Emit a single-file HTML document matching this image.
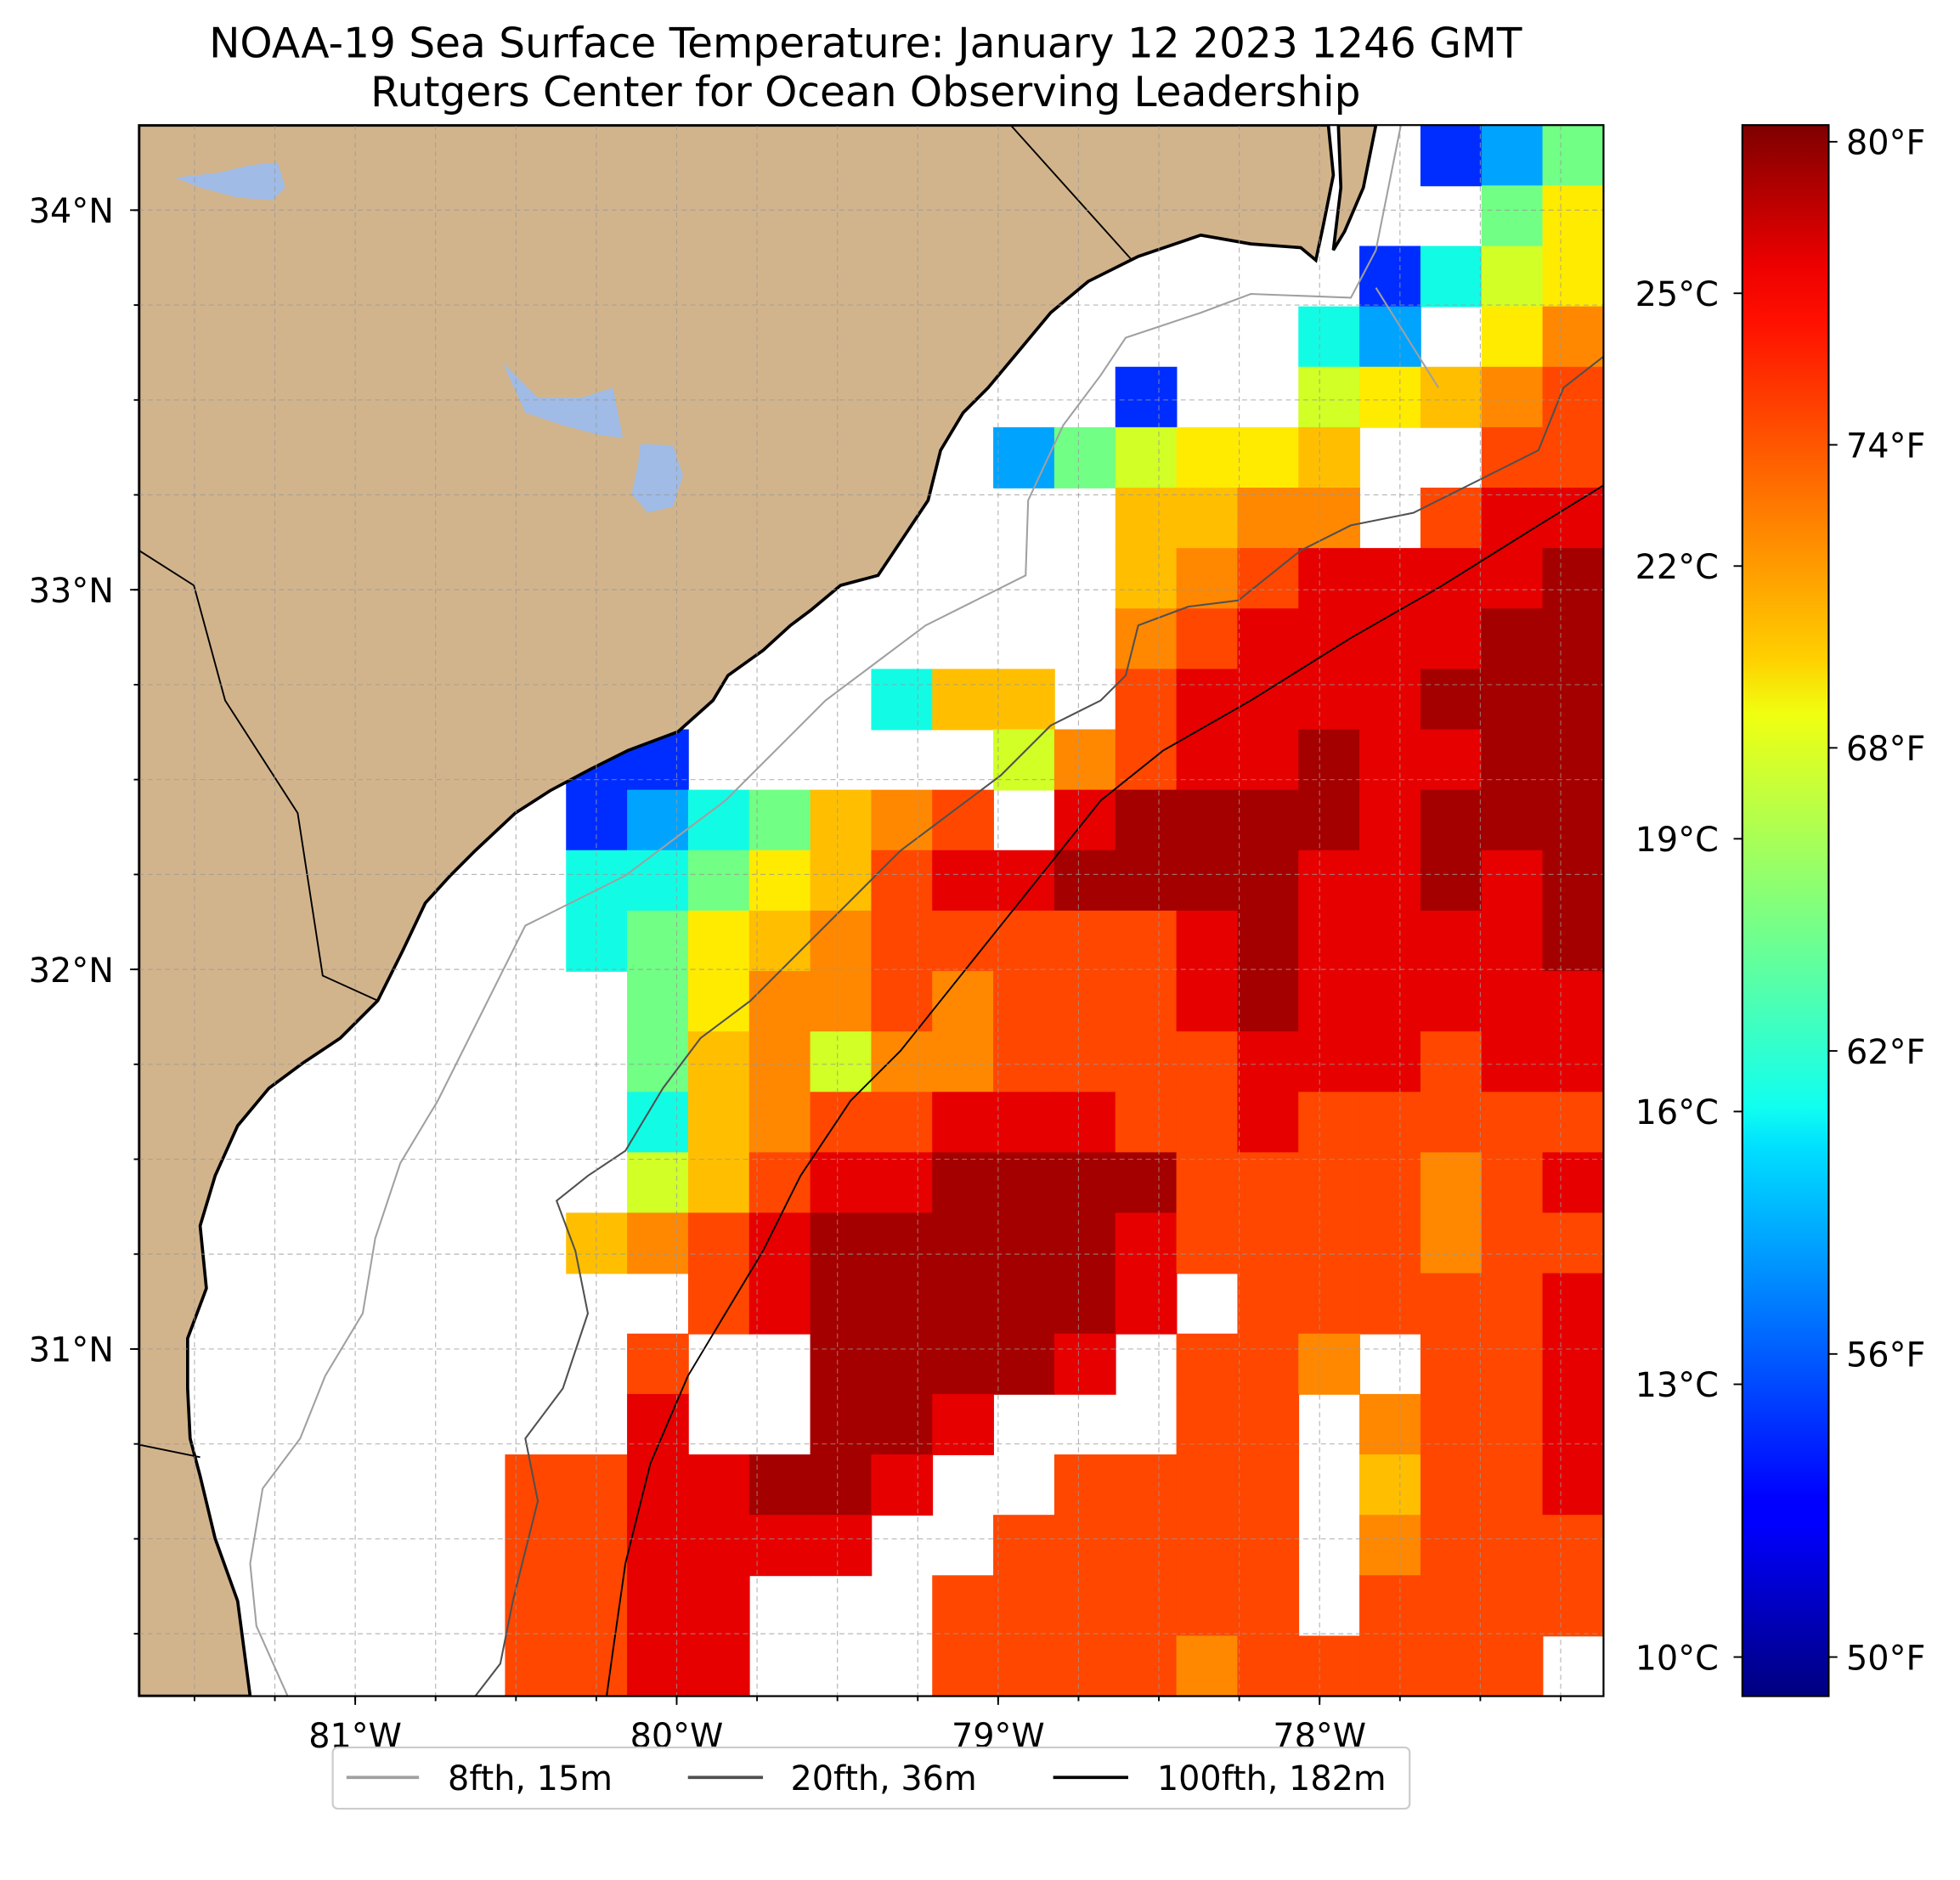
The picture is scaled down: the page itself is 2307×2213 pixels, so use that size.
<!DOCTYPE html>
<html><head><meta charset="utf-8"><style>
html,body{margin:0;padding:0;background:#fff;}
svg{display:block;font-family:"DejaVu Sans","Liberation Sans",sans-serif;}
</style></head><body>
<svg id="fig" width="2307" height="2213" viewBox="0 0 1567 1503" preserveAspectRatio="none" xmlns="http://www.w3.org/2000/svg">
<defs>
<clipPath id="plotclip"><rect x="111" y="100" width="1171" height="1256"/></clipPath>
<linearGradient id="jet" x1="0" y1="1" x2="0" y2="0">
<stop offset="0" stop-color="#00007f"/><stop offset="0.11" stop-color="#0000ff"/><stop offset="0.125" stop-color="#0000ff"/>
<stop offset="0.35" stop-color="#00e0ff"/><stop offset="0.375" stop-color="#10fff0"/><stop offset="0.5" stop-color="#7fff7f"/>
<stop offset="0.625" stop-color="#f0ff10"/><stop offset="0.66" stop-color="#ffd000"/><stop offset="0.875" stop-color="#ff1000"/><stop offset="0.91" stop-color="#ee0000"/><stop offset="1" stop-color="#7f0000"/>
</linearGradient>
</defs>
<text x="692" y="46" text-anchor="middle" font-size="33">NOAA-19 Sea Surface Temperature: January 12 2023 1246 GMT</text>
<text x="692" y="85" text-anchor="middle" font-size="33">Rutgers Center for Ocean Observing Leadership</text>
<g id="plot" clip-path="url(#plotclip)">
<rect x="111" y="100" width="1171" height="1256" fill="#ffffff"/>
<g id="cells"></g>
<path fill="#d2b48c" stroke="#000" stroke-width="2.5" d="M111,100 L1062,100 L1066,140 L1058,180 L1052,208 L1040,198 L1000,195 L960,188 L910,205 L870,225 L840,250 L815,280 L790,310 L770,330 L752,360 L742,400 L722,430 L702,460 L672,468 L648,488 L632,500 L610,520 L582,540 L570,560 L542,585 L502,600 L472,615 L440,632 L412,650 L380,680 L360,700 L340,722 L322,760 L302,800 L272,830 L242,850 L215,870 L190,900 L172,940 L160,980 L165,1030 L150,1070 L150,1110 L152,1150 L160,1180 L172,1230 L190,1280 L200,1356 L111,1356 Z"/>
<path fill="#d2b48c" stroke="#000" stroke-width="2.5" d="M1070,100 L1100,100 L1090,150 L1075,185 L1066,200 L1072,150 Z"/>
<path fill="none" stroke="#000" stroke-width="1.3" d="M808,100 L905,208 M111,440 L155,468 L180,560 L238,650 L258,780 L302,800 M111,1155 L160,1165"/>
<path fill="#9fbbe6" d="M140,142 L175,138 L200,132 L222,130 L228,150 L218,160 L190,158 L160,150 Z"/>
<path fill="#9fbbe6" d="M402,290 L430,318 L465,318 L490,310 L498,350 L480,348 L450,340 L420,330 Z"/>
<path fill="#9fbbe6" d="M512,355 L538,356 L546,380 L538,405 L518,410 L505,395 L510,372 Z"/>
<path fill="none" stroke="#a0a0a0" stroke-width="1.4" d="M1120,100 L1100,200 L1080,238 L1000,235 L960,250 L900,270 L880,300 L850,340 L822,400 L820,460 L780,480 L740,500 L700,530 L660,560 L620,600 L580,640 L540,670 L500,700 L460,720 L420,740 L400,780 L380,820 L350,880 L320,930 L300,990 L290,1050 L260,1100 L240,1150 L210,1190 L200,1250 L205,1300 L230,1356 M1100,230 L1150,310"/>
<path fill="none" stroke="#505050" stroke-width="1.4" d="M1282,285 L1250,310 L1230,360 L1180,385 L1130,410 L1080,420 L1040,440 L990,480 L950,485 L910,500 L900,540 L880,560 L840,580 L800,620 L760,650 L720,680 L680,720 L640,760 L600,800 L560,830 L530,870 L500,920 L470,940 L445,960 L460,1000 L470,1050 L450,1110 L420,1150 L430,1200 L410,1280 L400,1330 L380,1356"/>
<path fill="none" stroke="#000" stroke-width="1.3" d="M1282,388 L1230,420 L1150,470 L1080,510 L1000,560 L930,600 L880,640 L840,690 L800,740 L760,790 L720,840 L680,880 L640,940 L610,1000 L580,1050 L550,1100 L520,1170 L500,1250 L490,1320 L485,1356"/>
<g id="grid"></g>
</g>
<rect x="111" y="100" width="1171" height="1256" fill="none" stroke="#000" stroke-width="1.5"/>
<g id="axes" font-size="27"></g>
<rect x="1393" y="100" width="69" height="1256" fill="url(#jet)" stroke="#000" stroke-width="1.5"/>
<g id="cbticks" font-size="27"></g>
<g>
<rect x="266" y="1397" width="861" height="49" rx="4" fill="#fff" stroke="#ccc" stroke-width="1.5"/>
<line x1="277" y1="1421" x2="335" y2="1421" stroke="#a0a0a0" stroke-width="2.5"/>
<text x="358" y="1431" font-size="27">8fth, 15m</text>
<line x1="550" y1="1421" x2="610" y2="1421" stroke="#505050" stroke-width="2.5"/>
<text x="632" y="1431" font-size="27">20fth, 36m</text>
<line x1="842" y1="1421" x2="902" y2="1421" stroke="#000" stroke-width="2.5"/>
<text x="925" y="1431" font-size="27">100fth, 182m</text>
</g>
</svg>
<script>
const codeKeys = ["R","r","o","O","y","Y","g","G","c","b","B"];
const codeTemps = [26.3,25.3,24.0,22.8,21.8,21.0,20.0,18.0,16.0,14.5,12.5];
const sstRows = [
".....................BbG",
"......................GY",
"....................BcgY",
"...................cb.YO",
"................B..gYyOo",
"..............bGgYYy..oo",
"................yyOO.orr",
"................yOorrrrR",
"................OorrrrRR",
"............cyy.orrrrRRR",
".......BB.....gOorrRrrRR",
".......BbcGyOo.rRRRRrRRR",
".......ccGYyorrRRRRrrRrR",
".......cGYyOooooorRrrrrR",
"........GYOOoOooorRrrrrr",
"........GyOgOOoooorrrorr",
"........cyOoorrroorooooo",
"........gyorrRRRRooooOor",
".......yOorRRRRRrooooOoo",
".........orRRRRRr.ooooor",
"........o..RRRRr.ooO.oor",
"........r..RRr...oo.Ooor",
"......oorrRRr..oooo.yoor",
"......oorrrr..ooooo.Oooo",
"......oorr...oooooo.oooo",
"......oorr...ooooOooooo."
];
const latTicks = [34,33,32,31];
const latTickLabels = ["34°N","33°N","32°N","31°N"];
const lonTicks = [-81,-80,-79,-78];
const lonTickLabels = ["81°W","80°W","79°W","78°W"];
const cTicks = [25,22,19,16,13,10];
const cTickLabels = ["25°C","22°C","19°C","16°C","13°C","10°C"];
const fTicks = [80,74,68,62,56,50];
const fTickLabels = ["80°F","74°F","68°F","62°F","56°F","50°F"];

const NS="http://www.w3.org/2000/svg";
const PX0=111,PX1=1282,PY0=100,PY1=1356;
function lonX(lon){return 541+(lon+80)*257;}
function latY(lat){return 168+(34-lat)*303.5;}
const CMIN=9.57,CMAX=26.85;
function cbY(c){return 1356-(c-CMIN)/(CMAX-CMIN)*1256;}
function jet(v){
  v=Math.max(0,Math.min(1,v));
  function seg(x,pts){for(let i=0;i<pts.length-1;i++){const a=pts[i],b=pts[i+1];if(x>=a[0]&&x<=b[0]){return a[1]+(b[1]-a[1])*(x-a[0])/(b[0]-a[0]);}}return pts[pts.length-1][1];}
  const r=seg(v,[[0,0],[0.35,0],[0.66,1],[0.89,1],[1,0.5]]);
  const g=seg(v,[[0,0],[0.125,0],[0.375,1],[0.64,1],[0.91,0],[1,0]]);
  const b=seg(v,[[0,0.5],[0.11,1],[0.34,1],[0.65,0],[1,0]]);
  return "rgb("+Math.round(r*255)+","+Math.round(g*255)+","+Math.round(b*255)+")";
}
const nRows=sstRows.length, nCols=24;
const cw=(PX1-PX0)/nCols, ch=(PY1-PY0)/nRows;
function cellX(i){return PX0+i*cw;}
function cellY(j){return PY0+j*ch;}
const cells=document.getElementById("cells");
for(let j=0;j<nRows;j++){
  const row=sstRows[j];
  for(let i=0;i<nCols;i++){
    const k=codeKeys.indexOf(row[i]);
    if(k<0) continue;
    const t=codeTemps[k];
    const r=document.createElementNS(NS,"rect");
    
    
    r.setAttribute("x",cellX(i).toFixed(2));r.setAttribute("y",cellY(j).toFixed(2));
    r.setAttribute("width",(cw+0.6).toFixed(2));r.setAttribute("height",(ch+0.6).toFixed(2));
    r.setAttribute("fill",jet((t-CMIN)/(CMAX-CMIN)));
    cells.appendChild(r);
  }
}
const grid=document.getElementById("grid");
for(let lon=-81.75;lon<=-77;lon+=0.25){
  const x=lonX(lon); if(x<=PX0||x>=PX1) continue;
  const l=document.createElementNS(NS,"line");
  
  
  l.setAttribute("x1",x);l.setAttribute("x2",x);l.setAttribute("y1",PY0);l.setAttribute("y2",PY1);
  l.setAttribute("stroke","#999");l.setAttribute("stroke-width","0.8");l.setAttribute("stroke-dasharray","4,3");l.setAttribute("opacity","0.7");
  grid.appendChild(l);
}
for(let lat=30;lat<=34.5;lat+=0.25){
  const y=latY(lat); if(y<=PY0||y>=PY1) continue;
  const l=document.createElementNS(NS,"line");
  
  
  l.setAttribute("x1",PX0);l.setAttribute("x2",PX1);l.setAttribute("y1",y);l.setAttribute("y2",y);
  l.setAttribute("stroke","#999");l.setAttribute("stroke-width","0.8");l.setAttribute("stroke-dasharray","4,3");l.setAttribute("opacity","0.7");
  grid.appendChild(l);
}
const axes=document.getElementById("axes");
function line(g,x1,y1,x2,y2,name){const l=document.createElementNS(NS,"line");
  
  
  l.setAttribute("x1",x1);l.setAttribute("y1",y1);l.setAttribute("x2",x2);l.setAttribute("y2",y2);l.setAttribute("stroke","#000");l.setAttribute("stroke-width","1.3");g.appendChild(l);}
function text(g,x,y,s,anchor,name){const t=document.createElementNS(NS,"text");
  
  
  t.setAttribute("x",x);t.setAttribute("y",y);t.setAttribute("text-anchor",anchor);t.textContent=s;g.appendChild(t);}
for(let lon=-81.75;lon<=-77;lon+=0.25){const x=lonX(lon); if(x<PX0||x>PX1) continue; line(axes,x,PY1,x,PY1+4,"lon-minor-tick");}
for(let lat=30;lat<=34.5;lat+=0.25){const y=latY(lat); if(y<PY0||y>PY1) continue; line(axes,PX0-4,y,PX0,y,"lat-minor-tick");}
lonTicks.forEach((lon,i)=>{const x=lonX(lon); line(axes,x,PY1,x,PY1+7,"lon-tick"); text(axes,x,PY1+41,lonTickLabels[i],"middle","lon-tick-label");});
latTicks.forEach((lat,i)=>{const y=latY(lat); line(axes,PX0-7,y,PX0,y,"lat-tick"); text(axes,PX0-20,y+10,latTickLabels[i],"end","lat-tick-label");});
const cb=document.getElementById("cbticks");
cTicks.forEach((c,i)=>{const y=cbY(c); line(cb,1386,y,1393,y,"celsius-tick"); text(cb,1374,y+10,cTickLabels[i],"end","celsius-tick-label");});
fTicks.forEach((f,i)=>{const y=cbY((f-32)*5/9); line(cb,1462,y,1469,y,"fahrenheit-tick"); text(cb,1476,y+10,fTickLabels[i],"start","fahrenheit-tick-label");});
</script>
</body></html>
